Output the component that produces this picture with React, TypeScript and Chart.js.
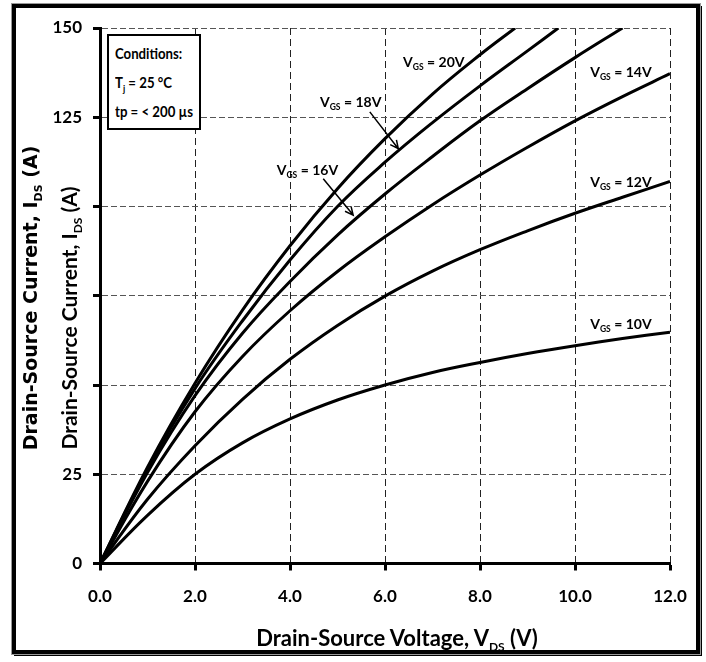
import React, { useEffect, useRef } from 'react';
import { Chart, registerables } from 'chart.js';

Chart.register(...registerables);

// ---- data ----
const VDS_FULL = [0, 1, 2, 3, 4, 5, 6, 7, 8, 9, 10, 11, 12];
const VDS_20 = [0, 1, 2, 3, 4, 5, 6, 7, 8, 8.74];
const IDS_20 = [0, 27, 50.5, 71, 89, 105, 119, 131.5, 142.5, 150];
const VDS_18 = [0, 1, 2, 3, 4, 5, 6, 7, 8, 9, 9.65];
const IDS_18 = [0, 26.5, 49, 68, 85, 100, 112.4, 123.5, 133.8, 143.6, 150];
const VDS_16 = [0, 1, 2, 3, 4, 5, 6, 7, 8, 9, 10, 11];
const IDS_16 = [0, 25.5, 47, 64.5, 79, 92, 103.5, 114, 124, 133, 141.7, 150];
const IDS_14 = [0, 23, 42.5, 58, 70.8, 81.8, 91.5, 100.5, 108.8, 116.6, 124, 130.8, 137.2];
const IDS_12 = [0, 18, 33, 46, 57.2, 66.7, 74.9, 81.9, 87.9, 93.2, 98.1, 102.6, 107];
const IDS_10 = [0, 13.5, 25, 33.8, 40.5, 45.8, 50, 53.5, 56.3, 58.8, 61, 63, 64.8];

const X_TICKS = [0, 2, 4, 6, 8, 10, 12];
const X_TICK_LABELS = ['0.0', '2.0', '4.0', '6.0', '8.0', '10.0', '12.0'];
const Y_TICKS = [0, 25, 50, 75, 100, 125, 150];
const Y_TICK_LABELS = ['0', '25', '', '', '', '125', '150'];

const CURVE_NAMES = ['20V', '18V', '16V', '14V', '12V', '10V'];
const LABEL_V = [6.38, 4.63, 3.72, 10.32, 10.32, 10.32];
const LABEL_I = [140.4, 129.2, 110.1, 137.6, 106.8, 67];
const ARROW_FROM_V = [5.68, 4.7];
const ARROW_FROM_I = [126.5, 107.8];
const ARROW_TO_V = [6.28, 5.33];
const ARROW_TO_I = [116.2, 97.6];

const FONT = 'Lato, "Open Sans", Arial, sans-serif';
const WIDE = '"DejaVu Sans", Verdana, sans-serif';

const zip = (xs: number[], ys: number[]) => xs.map((x, i) => ({ x, y: ys[i] }));

const annotPlugin = {
  id: 'annot',
  afterDatasetsDraw(chart: any) {
    const { ctx } = chart;
    const xs = chart.scales.x;
    const ys = chart.scales.y;
    ctx.save();
    ctx.fillStyle = '#000';
    ctx.textBaseline = 'alphabetic';
    CURVE_NAMES.forEach((name, k) => {
      let px = xs.getPixelForValue(LABEL_V[k]);
      const py = ys.getPixelForValue(LABEL_I[k]);
      ctx.font = `bold 14px ${FONT}`;
      ctx.fillText('V', px, py + 5);
      px += ctx.measureText('V').width;
      ctx.font = `bold 8.5px ${FONT}`;
      ctx.fillText('GS', px, py + 8);
      px += ctx.measureText('GS').width;
      ctx.font = `bold 14px ${FONT}`;
      ctx.fillText(' = ' + name, px, py + 5);
    });
    ctx.strokeStyle = '#000';
    ctx.lineWidth = 1.5;
    ARROW_FROM_V.forEach((_, k) => {
      const x1 = xs.getPixelForValue(ARROW_FROM_V[k]);
      const y1 = ys.getPixelForValue(ARROW_FROM_I[k]);
      const x2 = xs.getPixelForValue(ARROW_TO_V[k]);
      const y2 = ys.getPixelForValue(ARROW_TO_I[k]);
      const ang = Math.atan2(y2 - y1, x2 - x1);
      const L = 9;
      ctx.beginPath();
      ctx.moveTo(x1, y1);
      ctx.lineTo(x2, y2);
      ctx.moveTo(x2 - L * Math.cos(ang - 0.45), y2 - L * Math.sin(ang - 0.45));
      ctx.lineTo(x2, y2);
      ctx.lineTo(x2 - L * Math.cos(ang + 0.45), y2 - L * Math.sin(ang + 0.45));
      ctx.stroke();
    });
    ctx.restore();
  },
};

export default function App() {
  const ref = useRef<HTMLCanvasElement | null>(null);

  useEffect(() => {
    if (!ref.current) return;
    const line = (data: { x: number; y: number }[]) => ({
      data,
      borderColor: '#000',
      borderWidth: 3,
      pointRadius: 0,
      tension: 0.4,
      fill: false,
    });
    const chart = new Chart(ref.current, {
      type: 'line',
      data: {
        datasets: [
          line(zip(VDS_20, IDS_20)),
          line(zip(VDS_18, IDS_18)),
          line(zip(VDS_16, IDS_16)),
          line(zip(VDS_FULL, IDS_14)),
          line(zip(VDS_FULL, IDS_12)),
          line(zip(VDS_FULL, IDS_10)),
        ],
      },
      options: {
        animation: false,
        responsive: false,
        maintainAspectRatio: false,
        layout: { padding: { top: 28, right: 36, left: 0, bottom: 0 } },
        plugins: {
          legend: { display: false },
          tooltip: { enabled: false },
          title: { display: false },
        },
        scales: {
          x: {
            type: 'linear',
            min: 0,
            max: 12,
            afterFit: (s: any) => {
              s.height = 98.5;
            },
            afterBuildTicks: (s: any) => {
              s.ticks = X_TICKS.map((v) => ({ value: v }));
            },
            ticks: {
              callback: (v: any) => X_TICK_LABELS[X_TICKS.indexOf(Number(v))] ?? '',
              font: { family: FONT, size: 17, weight: 'bold' },
              color: '#000',
              padding: 16,
              maxRotation: 0,
            },
            grid: { color: '#222', lineWidth: 1, tickColor: '#000', tickWidth: 3, tickLength: 7 },
            border: { color: '#000', width: 3, dash: [7, 4] },
          },
          y: {
            type: 'linear',
            min: 0,
            max: 150,
            afterFit: (s: any) => {
              s.width = 100;
            },
            afterBuildTicks: (s: any) => {
              s.ticks = Y_TICKS.map((v) => ({ value: v }));
            },
            ticks: {
              callback: (v: any) => Y_TICK_LABELS[Y_TICKS.indexOf(Number(v))] ?? '',
              font: { family: FONT, size: 17, weight: 'bold' },
              color: '#000',
              padding: 11,
            },
            grid: { color: '#555', lineWidth: 1, tickColor: '#000', tickWidth: 3, tickLength: 7 },
            border: { color: '#000', width: 3, dash: [6, 3] },
          },
        },
      } as any,
      plugins: [annotPlugin],
    });
    return () => chart.destroy();
  }, []);

  const bold = { fontWeight: 'bold' as const, color: '#000', whiteSpace: 'nowrap' as const, position: 'absolute' as const };
  const sub = (size: number) => ({ fontSize: size, lineHeight: 0 });
  const condLine = { transform: 'scaleX(0.88)', transformOrigin: 'left center' };

  return (
    <div style={{ position: 'absolute', left: 0, top: 0, width: 706, height: 662, background: '#fff', overflow: 'hidden' }}>
      <div
        style={{
          position: 'absolute',
          left: 12,
          top: 4,
          width: 680,
          height: 642,
          border: '4px solid #000',
          boxShadow: '2px 2px 0 #000',
          outline: '1px solid #999',
        }}
      />
      <canvas ref={ref} width={706} height={662} style={{ position: 'absolute', left: 0, top: 0 }} />
      {/* Conditions box */}
      <div
        style={{
          position: 'absolute',
          left: 107,
          top: 34,
          width: 84,
          height: 89,
          border: '2px solid #000',
          background: '#fff',
          fontFamily: FONT,
          fontWeight: 'bold',
          fontSize: 15,
          lineHeight: '29px',
          paddingLeft: 6,
          paddingTop: 3,
          boxSizing: 'content-box',
          whiteSpace: 'nowrap',
        }}
      >
        <div style={condLine}>Conditions:</div>
        <div style={condLine}>
          T<sub style={sub(10)}>j</sub> = 25 °C
        </div>
        <div style={condLine}>tp = &lt; 200 µs</div>
      </div>
      {/* x title */}
      <div style={{ ...bold, left: 397, top: 637, transform: 'translate(-50%,-50%)', fontFamily: FONT, fontSize: 22 }}>
        Drain-Source Voltage, V<sub style={sub(12)}>DS</sub> (V)
      </div>
      {/* y titles */}
      <div
        style={{
          ...bold,
          left: 30,
          top: 298,
          transform: 'translate(-50%,-50%) rotate(-90deg)',
          fontFamily: WIDE,
          fontSize: 19,
        }}
      >
        Drain-Source Current, I<sub style={sub(11)}>DS</sub> (A)
      </div>
      <div
        style={{
          ...bold,
          left: 68,
          top: 318,
          transform: 'translate(-50%,-50%) rotate(-90deg)',
          fontFamily: FONT,
          fontSize: 21,
        }}
      >
        Drain-Source Current, I<sub style={sub(12)}>DS</sub> (A)
      </div>
    </div>
  );
}
